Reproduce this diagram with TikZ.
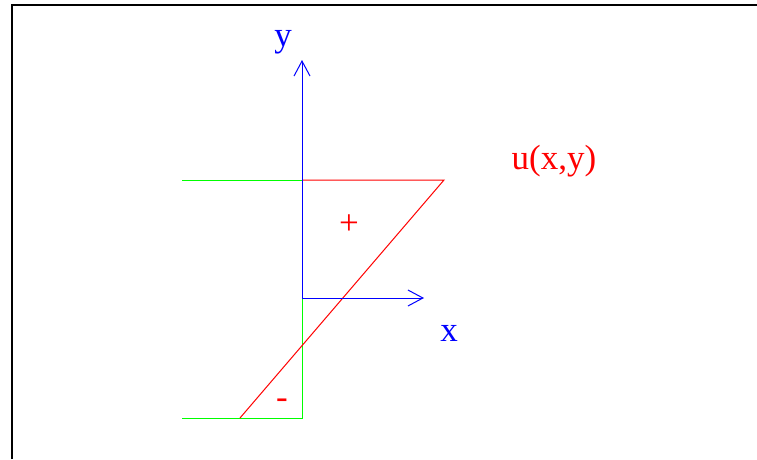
\documentclass[tikz,border=0pt]{standalone}
\usepackage{fontspec}
\setmainfont{Liberation Serif}
\usetikzlibrary{arrows.meta}

\begin{document}
\begin{tikzpicture}[
  x=1pt, y=-1pt,
  axis/.style={blue, line width=1pt, -{Straight Barb[length=15pt,width=16pt]}},
  profil/.style={red, line width=1pt},
  wall/.style={green, line width=1pt},
  lbl/.style={font=\fontsize{35}{40}\selectfont},
]
  \useasboundingbox (0,0) rectangle (757,459);
  \draw[line width=2pt] (12,459) -- (12,5) -- (757,5);

  \coordinate (O) at (302,298);
  \coordinate (ytip) at (302,60);
  \coordinate (xtip) at (424,298);
  \coordinate (wtop) at (182,180);
  \coordinate (atop) at (302,180);
  \coordinate (ptop) at (444,180);
  \coordinate (pbot) at (240,418);
  \coordinate (wbot) at (182,418);
  \coordinate (abot) at (302,418);

  \draw[wall] (wtop) -- (atop);
  \draw[wall] (O) -- (abot) -- (wbot);
  \draw[profil] (atop) -- (ptop) -- (pbot);
  \draw[axis] (O) -- (ytip);
  \draw[axis] (O) -- (xtip);

  \node[lbl, blue] (ylbl) at (283,42) {y};
  \node[lbl, blue] (xlbl) at (449,333) {x};
  \node[lbl, red] (ulbl) at (554,161) {u(x,y)};
  \node[lbl, red] (plus) at (349,225) {+};
  \node[lbl, red] (minus) at (282,404) {-};
\end{tikzpicture}
\end{document}
